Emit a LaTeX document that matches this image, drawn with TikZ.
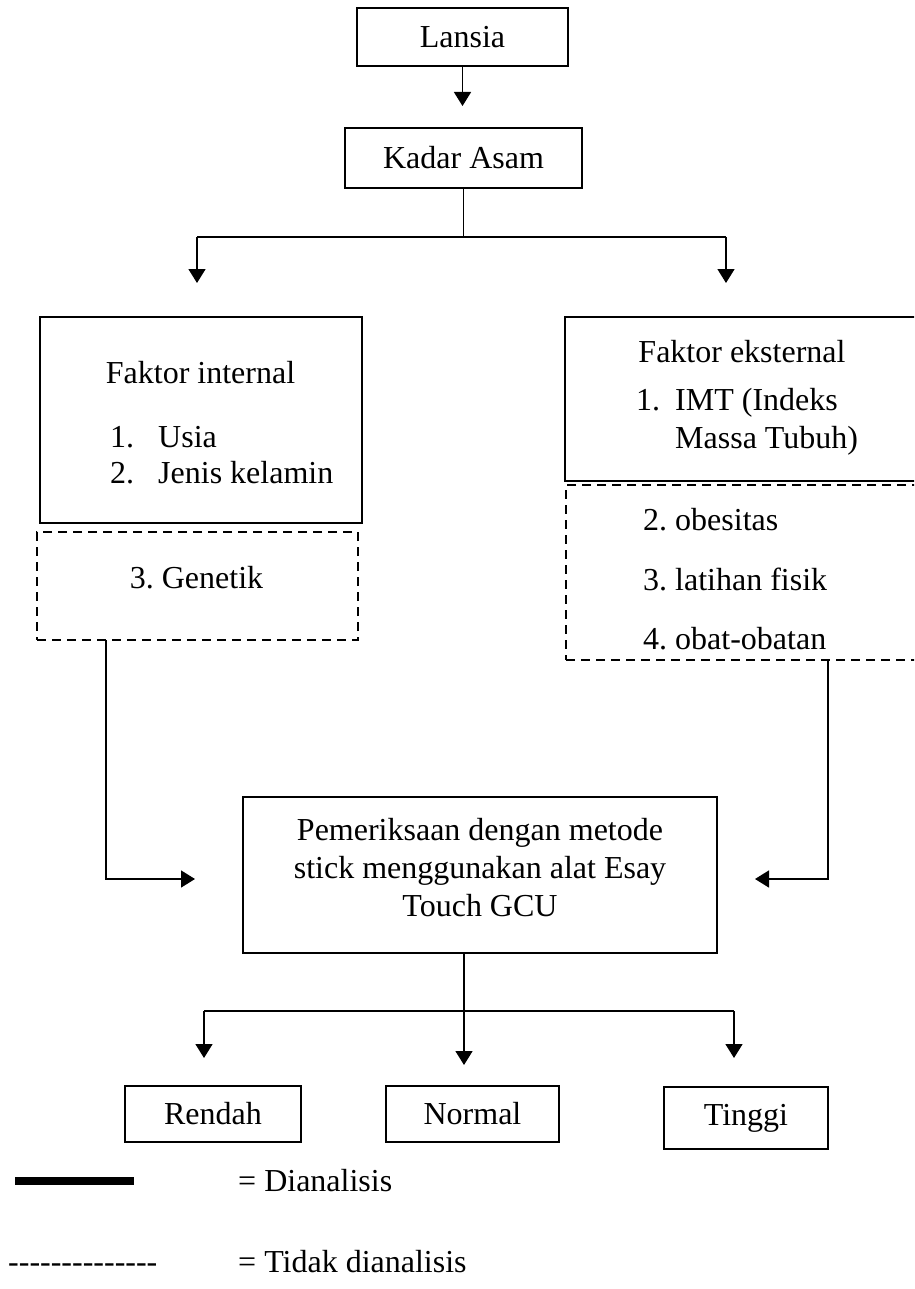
\documentclass[tikz,border=0pt]{standalone}
\usepackage{fontspec}
\setmainfont{Liberation Serif}
\usetikzlibrary{arrows.meta}
\begin{document}
\frenchspacing
\begin{tikzpicture}[x=1pt,y=-1pt,
  every node/.style={font=\fontsize{32}{37}\selectfont, inner sep=0pt},
  box/.style={draw, line width=2.2pt},
  dbox/.style={draw, line width=2.2pt, dash pattern=on 9pt off 6pt},
  txt/.style={text height=0.7em, text depth=0.22em, yshift=-8pt},
  conn/.style={line width=1.5pt},
  arr/.style={line width=1.5pt, -{Triangle[width=17pt,length=14pt]}},
]
\clip (0,0) rectangle (914,1289);
\fill[white] (0,0) rectangle (914,1289);

% ---- top
\node[box, minimum width=211pt, minimum height=58pt] (lansia) at (462.5,37) {Lansia};
\node[box, minimum width=237pt, minimum height=60pt] (kadar) at (463.5,158) {Kadar Asam};
\coordinate (tipK) at (462.5,106);
\coordinate (brC) at (463.5,237);
\coordinate (brL) at (197,237);
\coordinate (brR) at (726,237);
\coordinate (tipL) at (197,283);
\coordinate (tipR) at (726,283);
\draw[arr] (lansia.south) -- (tipK);
\draw[conn] (kadar.south) -- (brC);
\draw[conn] (brL) -- (brR);
\draw[arr] (brL) -- (tipL);
\draw[arr] (brR) -- (tipR);

% ---- left column
\node[box, minimum width=322pt, minimum height=206pt] (intbox) at (201,420) {};
\node[txt] (intT) at (200.5,373) {Faktor internal};
\node[txt, anchor=west] (int1n) at (110,437) {1.};
\node[txt, anchor=west] (int1) at (158,437) {Usia};
\node[txt, anchor=west] (int2n) at (110,473) {2.};
\node[txt, anchor=west] (int2) at (158,473) {Jenis kelamin};
\node[dbox, minimum width=321pt, minimum height=108pt] (genbox) at (197.5,586) {};
\node[txt] (gen) at (196.5,578) {3. Genetik};

% ---- right column
\node[box, minimum width=360pt, minimum height=164pt] (extbox) at (745,399) {};
\node[txt] (extT) at (742,352) {Faktor eksternal};
\node[txt, anchor=west] (ext1n) at (636,400) {1.};
\node[txt, anchor=west] (ext1) at (675,400) {IMT (Indeks};
\node[txt, anchor=west] (ext1b) at (675,438) {Massa Tubuh)};
\node[dbox, minimum width=360pt, minimum height=175pt] (extdbox) at (746,572.5) {};
\node[txt, anchor=west] (ext2) at (643,520) {2. obesitas};
\node[txt, anchor=west] (ext3) at (643,580) {3. latihan fisik};
\node[txt, anchor=west] (ext4) at (643,639) {4. obat-obatan};

% ---- examination box
\node[box, minimum width=474pt, minimum height=156pt] (exam) at (480,875) {};
\node[align=center, font=\fontsize{32}{38}\selectfont] (examT) at (480,868)
  {Pemeriksaan dengan metode\\stick menggunakan alat Esay\\Touch GCU};

\coordinate (gL) at (106,640);
\coordinate (gLb) at (106,879);
\coordinate (gLt) at (195,879);
\coordinate (eR) at (828,660);
\coordinate (eRb) at (828,879);
\coordinate (eRt) at (755,879);
\draw[arr] (gL) -- (gLb) -- (gLt);
\draw[arr] (eR) -- (eRb) -- (eRt);

% ---- results
\node[box, minimum width=176pt, minimum height=56pt] (rendah) at (213,1114) {Rendah};
\node[box, minimum width=173pt, minimum height=56pt] (normal) at (472.5,1114) {Normal};
\node[box, minimum width=164pt, minimum height=62pt] (tinggi) at (746,1118) {Tinggi};

\coordinate (eB) at (464,953);
\coordinate (b2C) at (464,1011);
\coordinate (b2L) at (204,1011);
\coordinate (b2R) at (734,1011);
\coordinate (t2L) at (204,1058);
\coordinate (t2C) at (464,1065);
\coordinate (t2R) at (734,1058);
\draw[conn] (b2L) -- (b2R);
\draw[arr] (eB) -- (t2C);
\draw[arr] (b2L) -- (t2L);
\draw[arr] (b2R) -- (t2R);

% ---- legend
\coordinate (lg1a) at (15,1181);
\coordinate (lg1b) at (134,1181);
\draw[line width=8pt] (lg1a) -- (lg1b);
\node[txt, anchor=west] (lgT1) at (238,1181) {= Dianalisis};
\node[txt, anchor=west] (lgD) at (8,1262) {-{}-{}-{}-{}-{}-{}-{}-{}-{}-{}-{}-{}-{}-};
\node[txt, anchor=west] (lgT2) at (238,1262) {= Tidak dianalisis};
\end{tikzpicture}
\end{document}
